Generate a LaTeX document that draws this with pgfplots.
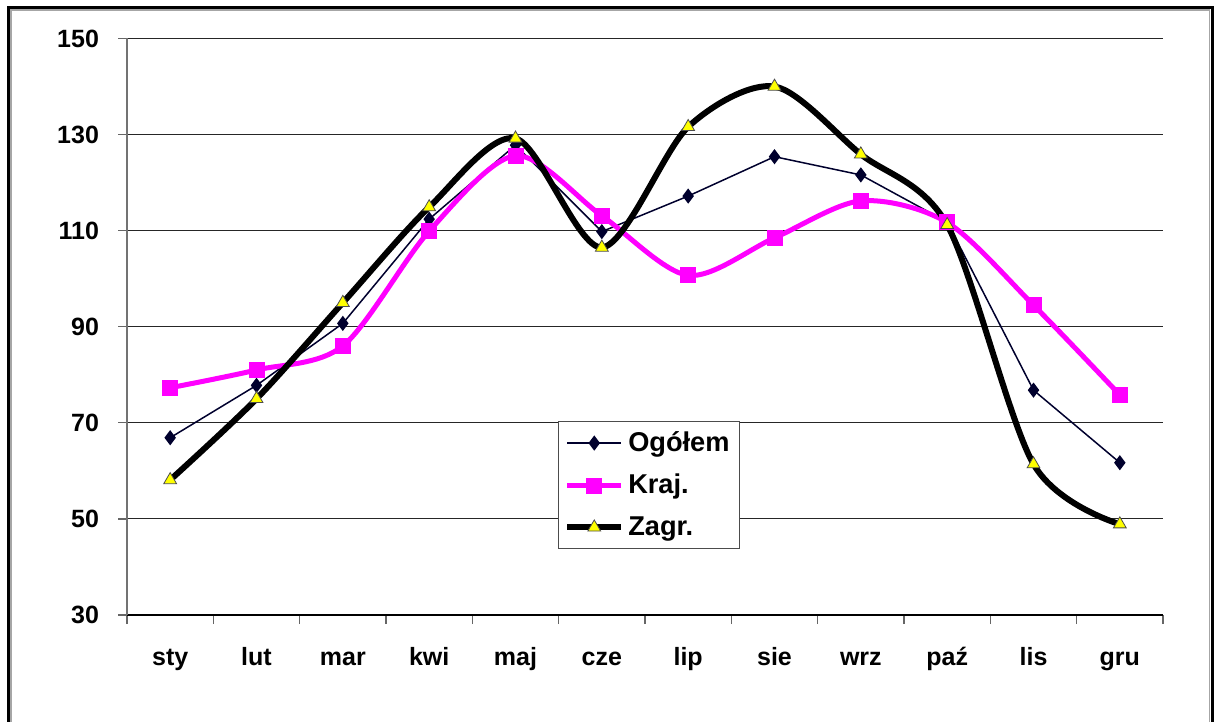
\documentclass[border=0pt]{standalone}
\usepackage{fontspec}
\setmainfont{Liberation Sans}
\usepackage{pgfplots}
\pgfplotsset{compat=1.18}
\definecolor{ogol}{RGB}{0,0,45}
\definecolor{kraj}{RGB}{255,0,255}
\definecolor{zyel}{RGB}{255,255,0}
\begin{document}
\begin{tikzpicture}
\useasboundingbox (0pt,0pt) rectangle (607.5pt,361pt);
\clip (0pt,0pt) rectangle (607.5pt,361pt);
\draw[line width=1.5pt, black] (4.25pt,-10pt) -- (4.25pt,357.25pt) -- (606pt,357.25pt) -- (606pt,-10pt);
\draw[line width=0.6pt, black!35] (5.5pt,-10pt) -- (5.5pt,356pt) -- (604.75pt,356pt) -- (604.75pt,-10pt);
\begin{axis}[
  at={(63.5pt,53.5pt)}, anchor=south west,
  scale only axis, width=518pt, height=288.25pt,
  xmin=-0.5, xmax=11.5, ymin=30, ymax=150,
  axis lines*=left,
  x axis line style={black, line width=0.6pt},
  y axis line style={black!55, line width=0.6pt},
  tick align=outside,
  ytick={30,50,...,150},
  xtick={0,...,11},
  xticklabels={sty,lut,mar,kwi,maj,cze,lip,sie,wrz,paź,lis,gru},
  major x tick style={draw=none},
  minor xtick={-0.5,0.5,...,11.5},
  minor tick length=4.5pt,
  major tick length=4.5pt,
  every tick/.style={black!60, line width=0.6pt},
  ymajorgrids,
  grid style={black!85, line width=0.55pt},
  /pgf/number format/assume math mode=true,
  ticklabel style={font=\fontsize{12.5}{14}\selectfont\bfseries},
  yticklabel style={xshift=-6pt},
  xticklabel style={yshift=-8pt, text height=9pt, text depth=2.6pt},
  clip=false,
  legend style={at={(0.4157,0.3365)}, anchor=north west, draw=black!70, line width=0.6pt,
    font=\fontsize{13.6}{16}\selectfont\bfseries, row sep=5.8pt, inner xsep=3pt, inner ysep=3pt,
    /tikz/every even column/.append style={column sep=1pt}},
  legend cell align=left,
  legend image code/.code={\draw[mark repeat=2,mark phase=2,#1] plot coordinates {(0pt,0pt) (13.5pt,0pt) (27pt,0pt)};},
]
\addplot[color=ogol, line width=0.75pt, mark=diamond*, mark size=3.2pt, mark options={fill=ogol}]
 coordinates {(0,66.9) (1,77.8) (2,90.7) (3,112.4) (4,127.8) (5,109.8) (6,117.2) (7,125.4) (8,121.6) (9,111.8) (10,76.8) (11,61.7)};
\addlegendentry{Ogółem}
\addplot[color=kraj, line width=2.5pt, smooth, tension=0.5, mark=square*, mark size=3.75pt, mark options={fill=kraj, line width=0pt}]
 coordinates {(0,77.3) (1,81.0) (2,86.0) (3,109.9) (4,125.6) (5,113.1) (6,100.7) (7,108.5) (8,116.2) (9,111.7) (10,94.5) (11,75.8)};
\addlegendentry{Kraj.}
\addplot[color=black, line width=3pt, smooth, tension=0.5, mark=triangle*, mark size=3.7pt, mark options={fill=zyel, draw=black!70, line width=0.4pt}]
 coordinates {(0,58.1) (1,75.0) (2,95.0) (3,114.9) (4,129.2) (5,106.5) (6,131.6) (7,140.0) (8,125.9) (9,111.2) (10,61.4) (11,48.9)};
\addlegendentry{Zagr.}
\end{axis}
\end{tikzpicture}
\end{document}
